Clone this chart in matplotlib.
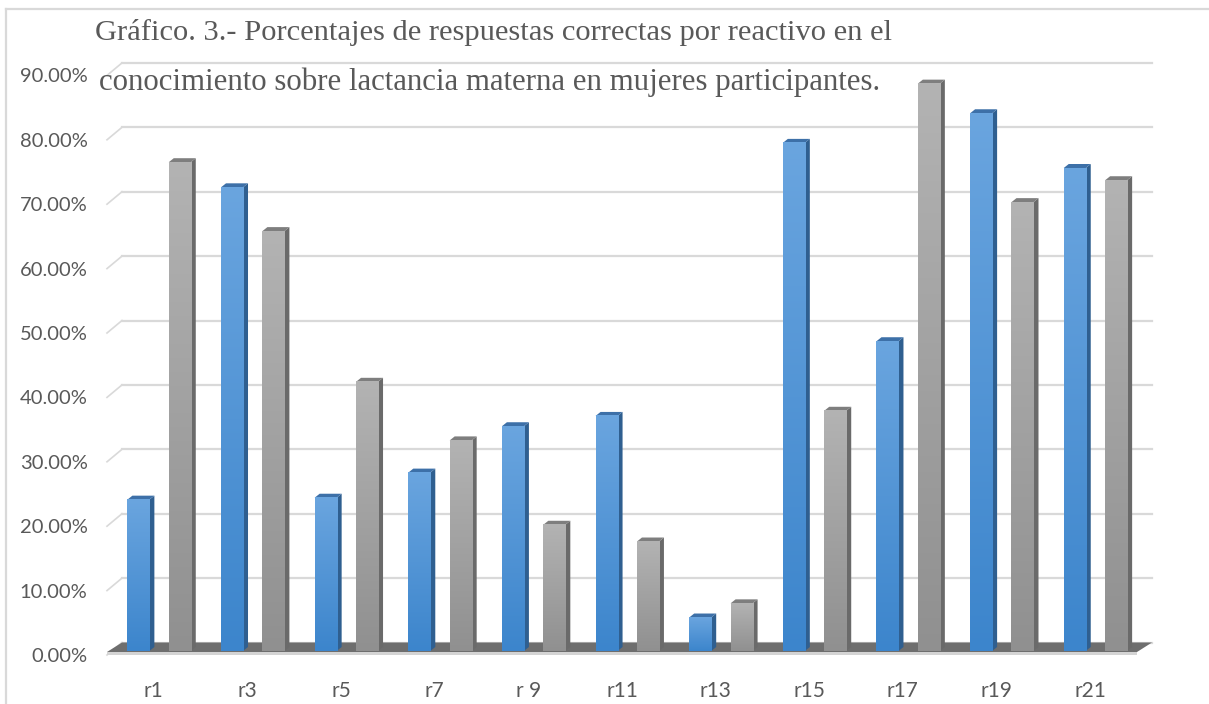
import numpy as np
import matplotlib
matplotlib.use("Agg")
import matplotlib.pyplot as plt
from matplotlib.patches import Polygon
from matplotlib.lines import Line2D
from matplotlib.transforms import IdentityTransform
from matplotlib.colors import LinearSegmentedColormap

# ---------------- data ----------------
categories = ['r1', 'r3', 'r5', 'r7', 'r 9', 'r11', 'r13', 'r15', 'r17', 'r19', 'r21']
serie_azul = [23.5, 72.0, 23.8, 27.7, 34.9, 36.5, 5.2, 78.9, 48.1, 83.5, 75.0]
serie_gris = [75.9, 65.2, 41.8, 32.7, 19.6, 17.0, 7.4, 37.3, 88.1, 69.7, 73.1]
y_ticks = [0, 10, 20, 30, 40, 50, 60, 70, 80, 90]
title_1 = "Gráfico. 3.- Porcentajes de respuestas correctas por reactivo en el"
title_2 = "conocimiento sobre lactancia materna en mujeres participantes."

# ---------------- layout ----------------
W, H = 1209, 704
fig = plt.figure(figsize=(W / 100, H / 100), dpi=100)
fig.patch.set_facecolor("white")

ax = fig.add_axes([107 / W, (H - 655) / H, (1137 - 107) / W, 579.6 / H])
ax.set_xlim(-0.5, len(categories) - 0.5)
ax.set_ylim(0, 90)
ax.set_autoscale_on(False)
ax.patch.set_visible(False)
for s in ax.spines.values():
    s.set_visible(False)

lab_col = "#595959"
ax.set_yticks(y_ticks)
ax.set_yticklabels([f"{v:.2f}%" for v in y_ticks], family="Lato", fontsize=14.5, color=lab_col)
ax.set_xticks(range(len(categories)))
ax.set_xticklabels(categories, family="Lato", fontsize=15, color=lab_col)
ax.tick_params(axis="y", length=0, pad=14)
ax.tick_params(axis="x", length=0, pad=19)

ID = IdentityTransform()
BACK = np.array([15.0, 12.5])   # depth offset of back wall (px)
BAR_F = np.array([5.25, 4.0])   # bar front-face depth offset
BAR_D = np.array([5.0, 4.0])    # bar own depth


def P(x, y, off=(0, 0)):
    return ax.transData.transform((x, y)) + np.asarray(off)


def poly(pts, color, z, **kw):
    p = Polygon(np.array(pts), closed=True, facecolor=color, edgecolor="none",
                transform=ID, zorder=z, clip_on=False, **kw)
    ax.add_artist(p)
    return p


# frame of the chart area
fig.add_artist(Line2D([6 / W, 6 / W], [0, 1 - 9 / H], color="#d9d9d9", lw=1.6))
fig.add_artist(Line2D([6 / W, 1], [1 - 9 / H, 1 - 9 / H], color="#d9d9d9", lw=1.6))

# back wall gridlines and left wall diagonals
xl, xr = -0.5, len(categories) - 0.5
for v in y_ticks:
    a = P(xl, v, BACK)
    b = P(xr, v, BACK)
    ax.add_artist(Line2D([a[0], b[0]], [a[1], b[1]], transform=ID, color="#d9d9d9",
                         lw=1.6, zorder=1, clip_on=False))
    c = P(xl, v)
    ax.add_artist(Line2D([c[0], a[0]], [c[1], a[1]], transform=ID, color="#d9d9d9",
                         lw=1.2, zorder=1, clip_on=False))

# floor slab
poly([P(xl, 0, (0, 3)), P(xr, 0, (0, 3)), P(xr, 0, BACK), P(xl, 0, BACK)], "#6e6e6e", 2)
poly([P(xl, 0), P(xr, 0), P(xr, 0, (0, 3)), P(xl, 0, (0, 3))], "#d4d4d4", 2)

# bars
blue_cmap = LinearSegmentedColormap.from_list("b", ["#3c85cc", "#6aa5df"])
gray_cmap = LinearSegmentedColormap.from_list("g", ["#909090", "#b3b3b3"])
grad = np.linspace(0, 1, 256).reshape(-1, 1)
w = 0.235
series = [(serie_azul, -0.221, blue_cmap, "#2f5f90", "#3d70a8"),
          (serie_gris, 0.221, gray_cmap, "#6a6a6a", "#7e7e7e")]
z = 3
for i in range(len(categories)):
    for vals, off, cmap, side_c, top_c in series:
        v = vals[i]
        x0, x1 = i + off - w / 2, i + off + w / 2
        bl = P(x0, 0, BAR_F)
        tr = P(x1, v, BAR_F)
        poly([P(x1, 0, BAR_F), P(x1, v, BAR_F), P(x1, v, BAR_F + BAR_D), P(x1, 0, BAR_F + BAR_D)],
             side_c, z)
        poly([P(x0, v, BAR_F), P(x1, v, BAR_F), P(x1, v, BAR_F + BAR_D), P(x0, v, BAR_F + BAR_D)],
             top_c, z)
        im = ax.imshow(grad, extent=(bl[0], tr[0], bl[1], tr[1]), origin="lower",
                       cmap=cmap, aspect="auto", transform=ID, zorder=z + 0.5,
                       interpolation="bilinear")
        im.set_clip_on(False)
        z += 1

ax.set_xlim(-0.5, len(categories) - 0.5)
ax.set_ylim(0, 90)

# titles (fit width to the reference)
renderer = fig.canvas.get_renderer()


def fitted_text(s, x_left, x_right, y_base, size0):
    t = fig.text(x_left / W, 1 - y_base / H, s, family="Liberation Serif", fontsize=size0,
                 color="#595959", ha="left", va="baseline")
    wpx = t.get_window_extent(renderer).width
    t.set_fontsize(size0 * (x_right - x_left) / wpx)
    return t


fitted_text(title_1, 95, 893, 40, 19)
fitted_text(title_2, 99, 882, 90, 21)

fig.savefig("out.png", dpi=100, facecolor="white")
